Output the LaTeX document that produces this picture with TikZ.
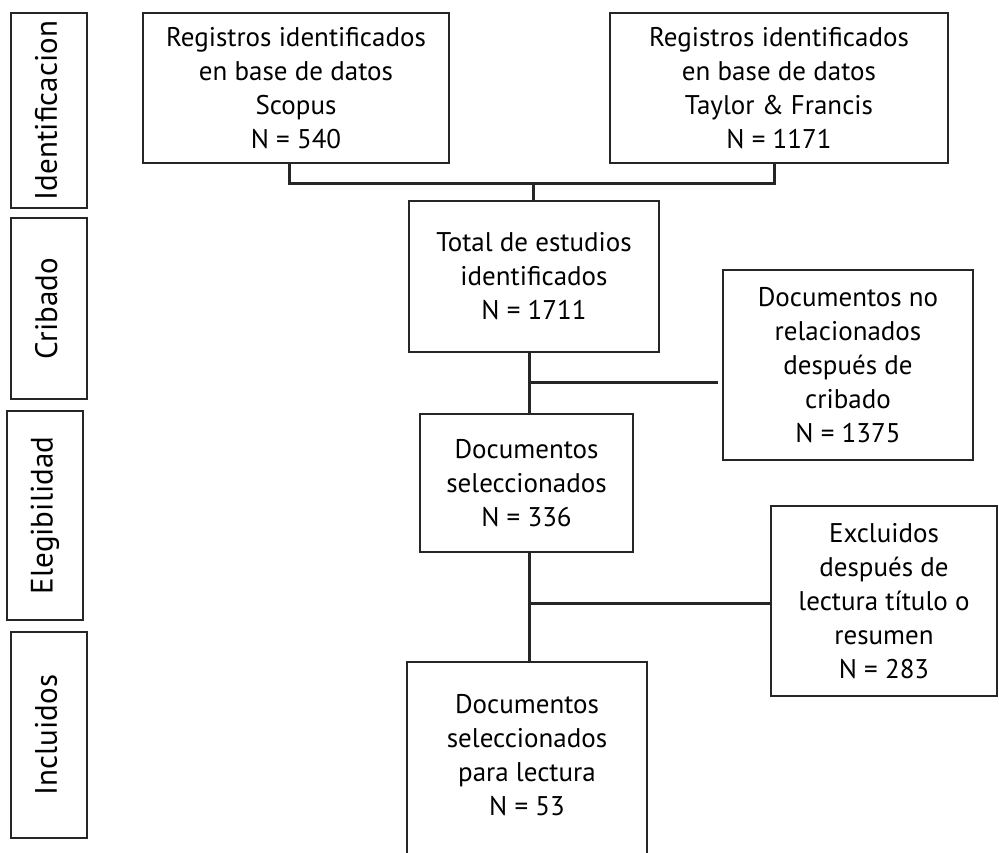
\documentclass[tikz,border=0pt]{standalone}
\usepackage{fontspec}
\setmainfont{PT Sans}
\definecolor{ink}{rgb}{0.15,0.15,0.15}
\begin{document}
\begin{tikzpicture}[x=1pt,y=-1pt,
  box/.style={draw=ink,line width=2pt,inner sep=0pt,align=center,font=\fontsize{27}{34}\selectfont,text=black},
  side/.style={draw=ink,line width=2pt,inner sep=0pt,rotate=90,font=\fontsize{31}{34}\selectfont,text=black},
  conn/.style={draw=ink,line width=3pt}]
\useasboundingbox[fill=white] (0,0) rectangle (999,852);
% side labels
\node[side,minimum width=195pt,minimum height=76pt] (ident) at (49,110.5) {\raisebox{6pt}{Identificacion}};
\node[side,minimum width=181pt,minimum height=76pt] (crib) at (49,308.5) {\raisebox{6pt}{Cribado}};
\node[side,minimum width=209pt,minimum height=76pt] (eleg) at (45,515.5) {\raisebox{6pt}{Elegibilidad}};
\node[side,minimum width=206pt,minimum height=76pt] (incl) at (49,735) {\raisebox{6pt}{Incluidos}};
% main boxes
\node[box,minimum width=306pt,minimum height=150pt] (scopus) at (296,88) {Registros identificados\\en base de datos\\Scopus\\N = 540};
\node[box,minimum width=338pt,minimum height=150pt] (taylor) at (779,88) {Registros identificados\\en base de datos\\Taylor \& Francis\\N = 1171};
\node[box,minimum width=250pt,minimum height=151pt] (total) at (534,276.5) {Total de estudios\\identificados\\N = 1711};
\node[box,minimum width=250pt,minimum height=190pt] (norel) at (848,365) {Documentos no\\relacionados\\después de\\cribado\\N = 1375};
\node[box,minimum width=213pt,minimum height=138pt] (docsel) at (526.5,483) {Documentos\\seleccionados\\N = 336};
\node[box,minimum width=226pt,minimum height=190pt] (excl) at (884,601) {Excluidos\\después de\\lectura título o\\resumen\\N = 283};
\node[box,draw=none,minimum width=238pt,minimum height=184pt] (final) at (527,755) {Documentos\\seleccionados\\para lectura\\N = 53};
\draw[ink,line width=2pt] ([yshift=-20pt]final.south west) -- (final.north west) -- (final.north east) -- ([yshift=-20pt]final.south east);
% connectors
\coordinate (j1) at (289,183);
\coordinate (j2) at (774,183);
\coordinate (j3) at (533,183);
\draw[conn] (scopus.south -| j1) -- (j1) -- (j2) -- (taylor.south -| j2);
\draw[conn] (j3) -- (total.north -| j3);
\coordinate (k1) at (529,382);
\coordinate (k1e) at (718,382);
\draw[conn] (total.south -| k1) -- (docsel.north -| k1);
\draw[conn] (k1) -- (k1e);
\coordinate (k2) at (529,603);
\draw[conn] (docsel.south -| k2) -- (final.north -| k2);
\draw[conn] (k2) -- (excl.west |- k2);
\end{tikzpicture}
\end{document}
